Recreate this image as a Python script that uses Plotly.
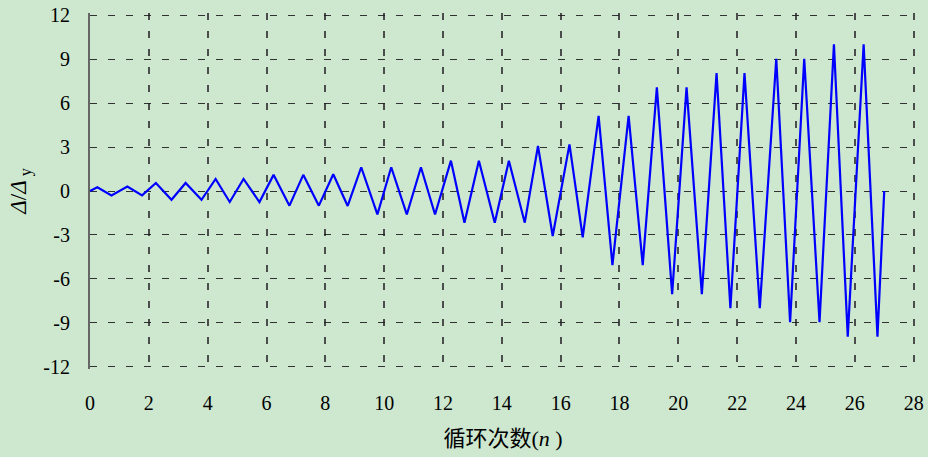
import plotly.graph_objects as go

# Cycle positions (n) and normalized displacement (Δ/Δy)
x_vals = [0,
          0.25, 0.73, 1.27, 1.77, 2.24, 2.77, 3.25, 3.79, 4.27, 4.75,
          5.22, 5.76, 6.24, 6.78, 7.25, 7.78, 8.27, 8.76, 9.22, 9.77,
          10.24, 10.77, 11.25, 11.73, 12.27, 12.73, 13.22, 13.76, 14.24, 14.78,
          15.23, 15.73, 16.30, 16.75, 17.29, 17.76, 18.31, 18.79, 19.27, 19.79,
          20.28, 20.80, 21.30, 21.77, 22.25, 22.77, 23.33, 23.80, 24.28, 24.80,
          25.29, 25.76, 26.30, 26.77,
          27.0]
y_vals = [0,
          0.25, -0.30, 0.30, -0.30, 0.55, -0.60, 0.55, -0.60, 0.82, -0.75,
          0.82, -0.75, 1.10, -1.00, 1.10, -1.00, 1.14, -1.02, 1.62, -1.60,
          1.62, -1.60, 1.62, -1.60, 2.07, -2.16, 2.07, -2.16, 2.07, -2.16,
          3.07, -3.07, 3.18, -3.16, 5.13, -5.06, 5.13, -5.06, 7.07, -7.04,
          7.07, -7.04, 8.04, -8.00, 8.04, -8.00, 9.02, -8.95, 9.02, -8.95,
          10.0, -9.93, 10.0, -9.93,
          0]

x_ticks = list(range(0, 29, 2))
y_ticks = list(range(-12, 13, 3))

bg = "#cde8cf"
serif = "Liberation Serif, Times New Roman, serif"

fig = go.Figure()
fig.add_trace(go.Scatter(x=x_vals, y=y_vals, mode="lines",
                         line=dict(color="#0000ff", width=2.2),
                         showlegend=False, hoverinfo="skip"))

fig.update_layout(
    width=928, height=457,
    margin=dict(l=90, r=12, t=13, b=88),
    paper_bgcolor=bg, plot_bgcolor=bg,
    font=dict(family=serif, size=20, color="black"),
)

fig.update_xaxes(
    range=[0, 28.08], tickvals=x_ticks, ticktext=[str(v) for v in x_ticks],
    showgrid=True, gridcolor="rgba(60,60,60,0.9)", gridwidth=1.6, griddash="7px,11px",
    zeroline=False, showline=False, ticks="", automargin=False,
    ticklabelstandoff=20,
    tickfont=dict(family=serif, size=20),
    title=dict(text="循环次数(<i>n</i> )",
               font=dict(family="Liberation Serif, Noto Sans CJK SC", size=22),
               standoff=17),
)
fig.update_yaxes(
    range=[-12.14, 12.14], tickvals=y_ticks, ticktext=[str(v) for v in y_ticks],
    showgrid=True, gridcolor="rgba(30,30,30,0.9)", gridwidth=1.4, griddash="7px,11px",
    zeroline=False, showline=True, linecolor="#666666", linewidth=2,
    ticks="", ticklabelstandoff=14, automargin=False,
    tickfont=dict(family=serif, size=20),
    title=dict(text="<i>Δ</i>/<i>Δ</i><sub> y</sub>",
               font=dict(family=serif, size=23), standoff=10),
)

fig.write_html("out.html")
